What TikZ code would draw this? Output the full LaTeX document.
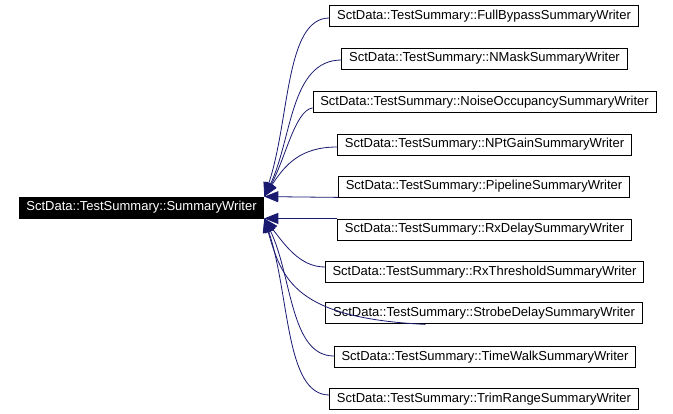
\documentclass[tikz,border=0pt]{standalone}
\usepackage{fontspec}
\setmainfont{Liberation Sans}
\usetikzlibrary{arrows.meta}
\definecolor{edgeblue}{HTML}{191970}
\tikzset{cls/.style={draw=black,fill=white,line width=0.8pt,minimum height=21pt,inner xsep=7.3pt,inner ysep=0pt,font=\fontsize{13}{15}\selectfont},
         base/.style={cls,fill=black,text=white},
         inherit/.style={draw=edgeblue,line width=0.8pt,{Triangle[length=14pt,width=11pt]}-}}

\begin{document}
\begin{tikzpicture}[x=1pt,y=-1pt]
\useasboundingbox (0,0) rectangle (673,414);
\node [base] (writer) at (141.5,207.5) {SctData::TestSummary::SummaryWriter};
\node [cls] (fullbypass) at (484,16) {SctData::TestSummary::FullBypassSummaryWriter};
\node [cls] (nmask) at (484.5,58.5) {SctData::TestSummary::NMaskSummaryWriter};
\node [cls] (noiseocc) at (484.5,102) {SctData::TestSummary::NoiseOccupancySummaryWriter};
\node [cls] (nptgain) at (484.5,144.5) {SctData::TestSummary::NPtGainSummaryWriter};
\node [cls] (pipeline) at (484,186.5) {SctData::TestSummary::PipelineSummaryWriter};
\node [cls] (rxdelay) at (484.5,229.5) {SctData::TestSummary::RxDelaySummaryWriter};
\node [cls] (rxthresh) at (484.5,272) {SctData::TestSummary::RxThresholdSummaryWriter};
\node [cls] (strobe) at (484,313) {SctData::TestSummary::StrobeDelaySummaryWriter};
\node [cls] (timewalk) at (485,357) {SctData::TestSummary::TimeWalkSummaryWriter};
\node [cls] (trimrange) at (484,399) {SctData::TestSummary::TrimRangeSummaryWriter};
\draw [inherit] (writer.north east) .. controls (290,120) and (285,18) .. ([yshift=-2pt]fullbypass.west);
\draw [inherit] (writer.north east) .. controls (292,140) and (290,60) .. ([yshift=-1.5pt]nmask.west);
\draw [inherit] (writer.north east) .. controls (285,160) and (295,110) .. ([yshift=-6pt]noiseocc.west);
\draw [inherit] (writer.north east) .. controls (285,165) and (300,147) .. ([yshift=-2.5pt]nptgain.west);
\draw [inherit] (writer.north east) -- (pipeline.south west);
\draw [inherit] (writer.south east) -- (rxdelay.north west);
\draw [inherit] (writer.south east) .. controls (285,245) and (300,267) .. ([yshift=5pt]rxthresh.west);
\draw [inherit] (writer.south east) .. controls (282,280) and (295,318) .. ([xshift=100pt,yshift=-0.5pt]strobe.south west);
\draw [inherit] (writer.south east) .. controls (292,275) and (290,356) .. ([yshift=1pt]timewalk.west);
\draw [inherit] (writer.south east) .. controls (290,295) and (285,395) .. ([yshift=4pt]trimrange.west);
\end{tikzpicture}
\end{document}
